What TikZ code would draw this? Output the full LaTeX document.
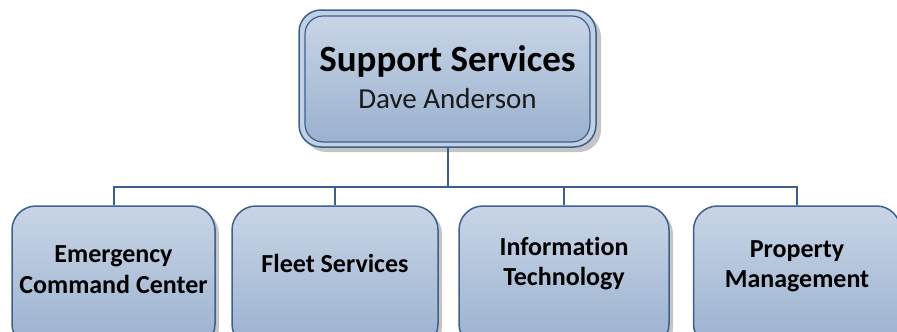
\documentclass[tikz,border=0pt]{standalone}
\usepackage{fontspec}
\setmainfont{Carlito}[Ligatures={NoCommon}]
\usetikzlibrary{shadows,calc}
\definecolor{edge}{HTML}{3C5F8E}
\definecolor{topc}{HTML}{C8D5E6}
\definecolor{botc}{HTML}{9AB1CF}
\definecolor{ringc}{HTML}{C2D0E3}
\tikzset{
  boxstyle/.style={draw=edge, line width=1.5pt, rounded corners=24pt,
    top color=topc, bottom color=botc, inner sep=0pt,
    drop shadow={shadow xshift=4pt, shadow yshift=-4pt, fill=black!45, opacity=0.5}},
  outerbox/.style={draw=edge, line width=1.5pt, rounded corners=22pt, fill=ringc, inner sep=0pt,
    drop shadow={shadow xshift=5pt, shadow yshift=-5pt, fill=black!45, opacity=0.5}},
  innerbox/.style={draw=edge, line width=1.2pt, rounded corners=18pt,
    top color=topc, bottom color=botc, inner sep=0pt},
  lbl/.style={font=\bfseries\fontsize{26}{30}\selectfont, align=center, text=black},
  conn/.style={draw=edge, line width=2pt}
}
\begin{document}
\begin{tikzpicture}[x=1pt,y=-1pt]
\useasboundingbox (0,0) rectangle (897,332);
% top box
\node[outerbox, minimum width=297pt, minimum height=137pt] (topout) at (447.5,78.5) {};
\node[innerbox, minimum width=285pt, minimum height=126pt] (top) at (447.5,79) {};
\node[font=\bfseries\fontsize{37}{40}\selectfont, text=black, anchor=base] (title) at (447.5,71) {Support Services};
\node[font=\fontsize{29}{32}\selectfont, text=black!90, anchor=base] (name) at (447.5,108) {Dave Anderson};
% bottom boxes
\node[boxstyle, minimum width=203pt, minimum height=142pt] (b1) at (113.5,277) {};
\node[boxstyle, minimum width=206pt, minimum height=142pt] (b2) at (335,277) {};
\node[boxstyle, minimum width=210pt, minimum height=142pt] (b3) at (564,277) {};
\node[boxstyle, minimum width=207pt, minimum height=142pt] (b4) at (797,277) {};
\node[lbl, anchor=base] (l1a) at (113.5,262) {Emergency};
\node[lbl, anchor=base] (l1b) at (113.5,293) {Command Center};
\node[lbl, anchor=base] (l2) at (335,272) {Fleet Services};
\node[lbl, anchor=base] (l3a) at (564,255) {Information};
\node[lbl, anchor=base] (l3b) at (564,285) {Technology};
\node[lbl, anchor=base] (l4a) at (797,257) {Property};
\node[lbl, anchor=base] (l4b) at (797,287) {Management};
% connectors
\coordinate (bus) at (447,187);
\draw[conn] (topout.south) -- (topout.south |- bus);
\draw[conn] (b1.north) -- (b1.north |- bus) -- (b4.north |- bus) -- (b4.north);
\draw[conn] (b2.north) -- (b2.north |- bus);
\draw[conn] (b3.north) -- (b3.north |- bus);
\end{tikzpicture}
\end{document}
